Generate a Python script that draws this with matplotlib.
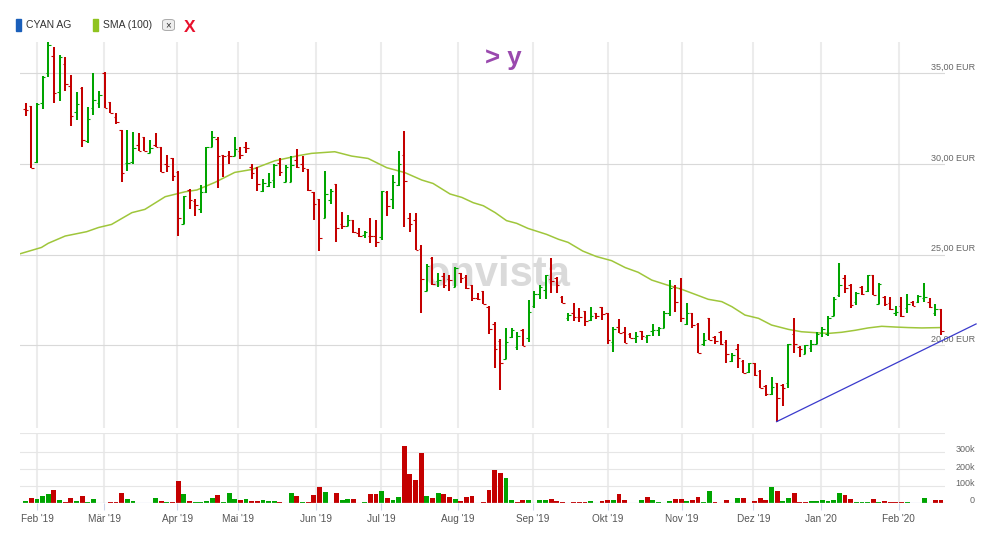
import matplotlib
matplotlib.use("Agg")
import matplotlib.pyplot as plt
from matplotlib.patches import FancyBboxPatch, Rectangle
import numpy as np

plt.rcParams['font.family'] = ['Liberation Sans', 'DejaVu Sans']

# daily OHLC of CYAN AG (EUR), one entry per trading bar
opens = [33.03, 33.2, 30.1, 33.35, 35.0, 35.96, 33.99, 35.5, 34.3, 32.85,
         34.2, 31.27, 33.07, 33.35, 35.05, 33.4, 32.6, 31.86, 30.04, 30.09,
         31.03, 31.5, 30.59, 31.03, 30.96, 29.98, 30.31, 29.58, 26.67, 28.57,
         27.98, 27.5, 28.47, 30.92, 31.4, 30.48, 30.48, 30.46, 30.72, 30.92,
         29.82, 29.76, 28.5, 28.8, 29.1, 30.04, 28.99, 29.03, 30.22, 29.98,
         29.7, 28.47, 28.1, 27.0, 28.0, 28.88, 26.69, 26.6, 26.9, 26.18,
         26.1, 26.05, 26.03, 25.99, 28.47, 28.1, 28.84, 30.5, 27.0, 26.9,
         25.29, 23.0, 24.84, 23.55, 23.82, 23.64, 23.2, 23.97, 23.75, 23.33,
         22.6, 22.98, 22.13, 21.2, 20.26, 19.23, 20.48, 19.93, 20.85, 20.42,
         22.17, 22.83, 23.05, 23.64, 23.7, 22.66, 21.5, 21.76, 21.56, 21.9,
         21.4, 21.76, 22.1, 21.76, 20.2, 21.03, 20.75, 20.61, 20.39, 20.79,
         20.48, 20.79, 20.85, 20.94, 21.8, 23.2, 23.14, 21.2, 21.8, 21.2,
         20.06, 21.5, 20.48, 20.75, 20.2, 19.15, 19.8, 19.15, 18.53, 19.0,
         18.6, 17.76, 17.3, 17.9, 17.8, 17.9, 20.6, 19.89, 19.52, 19.83,
         20.1, 20.66, 20.64, 21.6, 22.77, 23.7, 23.33, 22.4, 23.24, 22.98,
         23.88, 22.3, 22.66, 22.33, 21.8, 22.15, 22.04, 22.37, 22.4, 22.62,
         22.37, 21.8, 22.0]
highs = [33.38, 33.2, 33.35, 34.87, 36.75, 36.47, 36.0, 35.9, 34.94, 33.99,
         34.26, 33.16, 35.0, 34.03, 35.07, 33.42, 32.8, 31.88, 31.88, 31.75,
         31.69, 31.5, 31.32, 31.69, 30.96, 30.5, 30.35, 29.61, 28.24, 28.6,
         28.1, 28.84, 30.96, 31.82, 31.5, 30.5, 30.72, 31.5, 30.96, 31.2,
         30.0, 29.85, 29.2, 29.5, 30.0, 30.31, 29.95, 30.44, 30.83, 30.44,
         29.72, 28.47, 28.1, 29.61, 28.6, 28.9, 27.33, 27.2, 26.9, 26.49,
         26.3, 27.0, 26.9, 28.5, 28.5, 29.4, 30.72, 31.82, 27.32, 27.28,
         25.53, 24.47, 24.89, 24.0, 23.97, 23.88, 24.32, 24.0, 23.88, 23.33,
         22.9, 23.0, 22.15, 21.3, 20.33, 20.94, 20.94, 20.75, 20.88, 22.48,
         23.0, 23.33, 23.88, 24.8, 23.79, 22.7, 21.76, 22.33, 22.04, 21.9,
         22.1, 21.8, 22.13, 21.76, 21.0, 21.43, 21.0, 20.66, 20.75, 20.79,
         20.57, 21.2, 21.0, 21.9, 23.6, 23.33, 23.7, 22.33, 21.8, 21.25,
         20.7, 21.5, 20.5, 20.79, 20.3, 19.56, 20.07, 19.2, 19.0, 19.0,
         18.64, 17.8, 18.24, 17.9, 17.85, 20.07, 21.5, 19.96, 20.0, 20.3,
         20.75, 21.0, 21.6, 22.64, 24.53, 23.9, 23.36, 22.96, 23.27, 23.9,
         23.9, 23.46, 22.7, 22.66, 22.15, 22.66, 22.83, 22.42, 22.77, 23.46,
         22.6, 22.3, 22.0]
lows = [32.65, 29.76, 30.04, 33.03, 34.8, 33.35, 33.5, 34.04, 32.1, 32.43,
        30.96, 31.14, 32.7, 33.07, 33.12, 32.8, 32.2, 29.0, 29.63, 29.98,
        30.72, 30.74, 30.59, 30.92, 29.54, 29.54, 29.08, 26.03, 26.67, 27.5,
        27.15, 27.32, 28.42, 30.92, 28.66, 29.27, 30.0, 30.46, 30.26, 30.6,
        29.15, 28.5, 28.47, 28.75, 28.66, 29.33, 28.99, 28.99, 29.76, 29.54,
        28.53, 26.9, 25.22, 27.0, 27.77, 25.7, 26.4, 26.6, 26.2, 26.0,
        25.94, 25.64, 25.44, 25.8, 27.15, 27.52, 28.81, 26.54, 26.27, 25.26,
        21.76, 23.0, 23.33, 23.24, 23.15, 23.0, 23.2, 23.42, 23.09, 22.46,
        22.5, 22.27, 20.65, 18.73, 17.54, 19.23, 20.39, 19.74, 19.96, 20.2,
        22.04, 22.54, 22.54, 22.9, 22.9, 22.33, 21.34, 21.36, 21.3, 21.07,
        21.34, 21.43, 21.4, 20.07, 19.65, 20.66, 20.13, 20.39, 20.15, 20.3,
        20.15, 20.5, 20.5, 20.94, 21.6, 21.86, 21.3, 21.1, 20.94, 19.6,
        19.94, 20.3, 20.1, 20.02, 19.0, 19.1, 18.77, 18.46, 18.5, 18.3,
        17.63, 17.22, 17.26, 15.79, 16.68, 17.63, 19.56, 19.34, 19.52, 19.65,
        20.1, 20.48, 20.5, 21.6, 22.68, 22.9, 22.04, 22.22, 22.77, 22.92,
        22.77, 22.27, 22.15, 21.95, 21.6, 21.56, 21.8, 22.17, 22.35, 22.4,
        22.04, 21.6, 20.57]
closes = [33.0, 29.8, 33.3, 34.83, 36.56, 33.93, 35.9, 34.4, 32.65, 33.3,
          31.3, 32.46, 33.53, 33.8, 33.12, 32.83, 32.33, 29.5, 30.07, 30.86,
          30.72, 30.74, 30.86, 30.92, 29.58, 29.89, 29.34, 27.0, 28.24, 28.0,
          27.74, 28.47, 30.92, 31.5, 30.44, 30.44, 30.46, 30.81, 30.5, 30.9,
          29.5, 28.9, 28.97, 28.99, 29.95, 29.54, 29.85, 29.95, 29.85, 29.8,
          28.57, 27.8, 25.9, 28.33, 28.53, 26.5, 26.58, 26.9, 26.27, 26.03,
          26.25, 26.03, 25.72, 28.5, 27.68, 28.99, 30.0, 29.06, 26.69, 25.26,
          23.64, 24.38, 23.36, 23.6, 23.33, 23.6, 24.27, 23.7, 23.15, 22.6,
          22.58, 22.27, 20.9, 19.78, 19.0, 20.2, 20.85, 20.5, 19.96, 21.86,
          22.83, 23.2, 23.88, 23.57, 23.33, 22.33, 21.7, 21.58, 21.54, 21.36,
          21.6, 21.6, 21.73, 20.3, 20.88, 20.7, 20.15, 20.43, 20.5, 20.53,
          20.55, 20.85, 20.94, 21.8, 23.14, 22.41, 21.5, 21.8, 21.1, 19.6,
          20.3, 20.3, 20.24, 20.07, 19.52, 19.47, 19.28, 18.5, 19.0, 18.36,
          17.63, 17.3, 17.72, 17.08, 17.63, 20.07, 20.1, 19.78, 20.0, 20.1,
          20.64, 20.9, 21.5, 22.58, 23.33, 23.15, 22.22, 22.87, 22.83, 23.88,
          22.77, 23.4, 22.3, 22.0, 21.86, 21.6, 22.3, 22.17, 22.7, 22.68,
          22.1, 22.0, 20.8]

# volume in thousands, and whether the volume bar is shown as up (1) or down (0)
volumes = [10, 30, 22, 40, 54, 76, 16, 6, 28, 10,
           40, 6, 22, 0, 0, 6, 6, 60, 22, 10,
           0, 0, 0, 28, 10, 6, 6, 126, 52, 10,
           6, 6, 10, 28, 46, 6, 60, 22, 16, 22,
           10, 10, 16, 10, 10, 6, 0, 60, 42, 6,
           6, 48, 90, 64, 0, 60, 16, 22, 22, 0,
           6, 54, 54, 70, 28, 16, 34, 336, 168, 136,
           292, 40, 30, 60, 54, 34, 22, 10, 34, 40,
           0, 6, 76, 190, 174, 148, 16, 6, 16, 16,
           0, 16, 16, 22, 10, 6, 0, 6, 6, 6,
           10, 0, 10, 16, 16, 52, 16, 0, 0, 16,
           34, 16, 6, 0, 10, 22, 22, 10, 16, 34,
           6, 70, 6, 0, 16, 0, 28, 28, 0, 10,
           28, 16, 94, 70, 10, 28, 60, 6, 6, 10,
           10, 16, 10, 16, 60, 46, 22, 6, 6, 6,
           22, 6, 10, 6, 6, 6, 6, 0, 0, 28,
           0, 16, 16]
vol_up = [1, 0, 1, 1, 1, 0, 1, 0, 0, 1,
          0, 1, 1, 1, 0, 0, 0, 0, 1, 1,
          0, 0, 1, 1, 0, 1, 0, 0, 1, 0,
          1, 1, 1, 1, 0, 1, 1, 1, 0, 1,
          0, 0, 1, 1, 1, 0, 1, 1, 0, 1,
          0, 0, 0, 1, 1, 0, 1, 1, 0, 0,
          1, 0, 0, 1, 0, 1, 1, 0, 0, 0,
          0, 1, 0, 1, 0, 0, 1, 0, 0, 0,
          0, 0, 0, 0, 0, 1, 1, 0, 0, 1,
          1, 1, 1, 0, 0, 0, 0, 0, 0, 0,
          1, 0, 0, 0, 1, 0, 0, 0, 1, 1,
          0, 1, 1, 1, 1, 0, 0, 1, 0, 0,
          1, 1, 0, 0, 0, 1, 1, 0, 1, 0,
          0, 0, 1, 0, 1, 1, 0, 0, 0, 1,
          1, 1, 1, 1, 1, 0, 0, 1, 1, 1,
          0, 1, 0, 0, 0, 0, 1, 0, 1, 1,
          0, 0, 0]

# SMA (100) at bar positions
sma_idx = [0, 3.8, 5.0, 8.0, 11.8, 13.9, 16.2, 19.8, 22.1, 25.7, 29.2, 31.3, 34.5,
           38.0, 41.0, 45.1, 49.2, 51.6, 55.7, 58.7, 61.6, 64.9, 68.1, 71.1,
           73.1, 76.1, 78.2, 80.2, 82.0, 84.1, 86.1, 87.9, 89.9, 93.2, 95.3,
           97.0, 99.6, 102.0, 104.7, 107.1, 109.4, 111.8, 114.5, 117.1, 119.5,
           121.8, 124.2, 126.0, 128.3, 130.7, 133.0, 136.0, 138.3, 140.7,
           143.1, 145.4, 147.8, 150.1, 152.5, 154.9, 157.2, 159.6, 163.0]
sma_val = [25.05, 25.4, 25.63, 26.03, 26.27, 26.5, 26.67, 27.32, 27.5, 28.2, 28.47, 28.57, 28.99,
           29.54, 29.7, 30.18, 30.46, 30.59, 30.68, 30.44, 30.31, 29.8, 29.53, 29.12,
           28.93, 28.35, 28.16, 27.87, 27.7, 27.32, 26.88, 26.73, 26.45, 26.12, 25.85,
           25.68, 25.2, 24.9, 24.67, 24.29, 24.03, 23.6, 23.33, 23.09, 22.81,
           22.54, 22.41, 22.13, 21.67, 21.49, 21.12, 20.88, 20.75, 20.7,
           20.66, 20.72, 20.83, 20.96, 21.05, 21.01, 20.98, 20.96, 20.98]

# hand drawn support line
trend_idx = [133.9, 169.2]
trend_val = [15.79, 21.18]

month_pos = [3.06, 14.9, 27.8, 38.6, 52.3, 63.9, 77.5, 90.7, 104.0, 117.2, 129.8, 141.7, 155.5]
month_labels = ["Feb '19", "Mär '19", "Apr '19", "Mai '19", "Jun '19", "Jul '19", "Aug '19",
                "Sep '19", "Okt '19", "Nov '19", "Dez '19", "Jan '20", "Feb '20"]
price_ticks = [20, 25, 30, 35]
vol_ticks = [0, 100, 200, 300]

RED = '#c40000'
GREEN = '#00a400'
W, H = 996, 535


def fx(px):
    return px / W


def fy(py):
    return 1 - py / H


fig = plt.figure(figsize=(W / 100, H / 100), dpi=100)
ax = fig.add_axes([fx(20), fy(428), fx(925), (428 - 41.7) / H])
axv = fig.add_axes([fx(20), fy(502.7), fx(925), (502.7 - 433) / H])

n = len(opens)
idx = np.arange(1, n + 1)
o = np.array(opens)
c = np.array(closes)
cols = [GREEN if c[i] >= o[i] else RED for i in range(n)]

ax.set_xlim(0, 163.7)
ax.set_ylim(15.44, 36.75)
axv.set_xlim(0, 163.7)
axv.set_ylim(0, 410)

for a in (ax, axv):
    for s in a.spines.values():
        s.set_visible(False)
    a.set_yticks([])
    for m in month_pos:
        a.axvline(m, color='#ececec', lw=1.5, zorder=0)

ax.set_xticks([])
for p in price_ticks:
    ax.axhline(p, color='#d9d9d9', lw=0.8, zorder=0)
    ax.text((975 - 20) / 925, p + 0.33, "%d,00 EUR" % p, transform=ax.get_yaxis_transform(),
            ha='right', va='center', fontsize=6.5, color='#666666', clip_on=False)

# watermark, behind the bars
ax.text(fx(497), fy(286.5), "onvista", transform=fig.transFigure, ha='center',
        va='baseline', fontsize=30, fontweight='bold', color='#dadada', zorder=1)

# OHLC bars
ax.vlines(idx, lows, highs, colors=cols, lw=1.45, zorder=3)
ax.hlines(opens, idx - 0.45, idx, colors=cols, lw=0.8, zorder=3)
ax.hlines(closes, idx, idx + 0.45, colors=cols, lw=0.8, zorder=3)

ax.plot(sma_idx, sma_val, color='#9fc63b', lw=1.1, zorder=2)
ax.plot(trend_idx, trend_val, color='#3a3acc', lw=0.9, zorder=4, clip_on=False)

# volume pane
for v in vol_ticks[1:]:
    axv.axhline(v, color='#e6e6e6', lw=0.8, zorder=0)
axv.axhline(410, color='#e6e6e6', lw=0.8, zorder=0)
vcols = [GREEN if u else RED for u in vol_up]
axv.bar(idx, volumes, width=0.86, color=vcols, zorder=2)
axv.axhline(0, color='#ccd6eb', lw=0.9, zorder=3)
for v in vol_ticks:
    label = "0" if v == 0 else "%dk" % v
    axv.text((975 - 20) / 925, v + 10, label, transform=axv.get_yaxis_transform(),
             ha='right', va='center', fontsize=6.5, color='#666666', clip_on=False)

axv.set_xticks(month_pos)
axv.set_xticklabels(month_labels)
axv.tick_params(axis='x', length=5, width=0.8, color='#ccd6eb', labelsize=7.2,
                labelcolor='#555555', pad=3)

# header legend
fig.patches.append(Rectangle((fx(16), fy(30.7)), fx(4.5), 11.7 / H, color='#1a5fba',
                             transform=fig.transFigure, figure=fig))
fig.text(fx(26), fy(25), "CYAN AG", ha='left', va='center', fontsize=7.5, color='#333333')
fig.patches.append(Rectangle((fx(93.3), fy(30.7)), fx(4.5), 11.7 / H, color='#8fc31f',
                             transform=fig.transFigure, figure=fig))
fig.text(fx(102.5), fy(25), "SMA (100)", ha='left', va='center', fontsize=7.5, color='#333333')
fig.patches.append(FancyBboxPatch((fx(162.5), fy(30.5)), fx(12), 11 / H,
                                  boxstyle="round,pad=0,rounding_size=0.004",
                                  fc='#eeeeee', ec='#aaaaaa', lw=0.7,
                                  transform=fig.transFigure, figure=fig))
fig.text(fx(168.5), fy(25.3), "\u00d7", ha='center', va='center', fontsize=7, color='#333333')
fig.text(fx(190), fy(27), "X", ha='center', va='center', fontsize=12.5, fontweight='bold',
         color='#e8112d')

fig.text(fx(503), fy(58), "> y", ha='center', va='center', fontsize=18.5, fontweight='bold',
         color='#9a49ae')

plt.savefig("out.png", dpi=100)
